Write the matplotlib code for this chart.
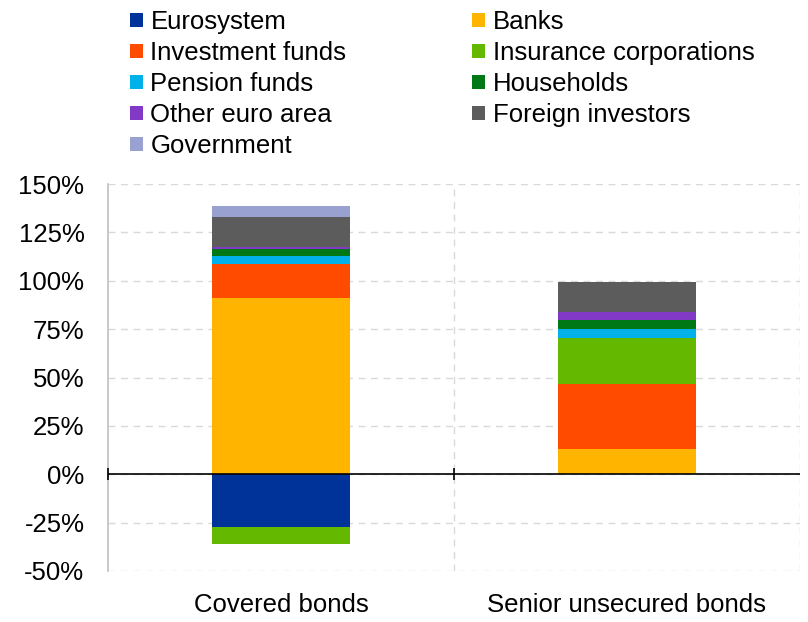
import matplotlib.pyplot as plt
import numpy as np
from matplotlib.patches import Patch

plt.rcParams['font.family'] = ['Liberation Sans', 'DejaVu Sans']

categories = ['Covered bonds', 'Senior unsecured bonds']

# positive holdings, stacked from the bottom up (percent)
pos_names = ['Banks', 'Investment funds', 'Insurance corporations', 'Pension funds',
             'Households', 'Other euro area', 'Foreign investors', 'Government']
pos_values = [
    [91.0, 13.3],
    [17.7, 33.3],
    [0.0, 24.1],
    [4.1, 4.5],
    [3.4, 4.8],
    [1.2, 3.8],
    [15.5, 15.4],
    [5.9, 0.3],
]
# negative holdings, stacked downward
neg_names = ['Eurosystem', 'Insurance corporations']
neg_values = [
    [-27.2, 0.0],
    [-8.6, 0.0],
]

colors = {
    'Eurosystem': '#003399',
    'Banks': '#FFB400',
    'Investment funds': '#FF4B00',
    'Insurance corporations': '#65B800',
    'Pension funds': '#00B1EA',
    'Households': '#007816',
    'Other euro area': '#8139C6',
    'Foreign investors': '#5C5C5C',
    'Government': '#98A1D0',
}

FS = 18.5

fig = plt.figure(figsize=(8.08, 6.22), dpi=100)
ax = fig.add_axes([0.1337, 0.082, 0.8563, 0.622])

x = np.arange(len(categories))
w = 0.4
bottom = np.zeros(len(categories))
for name, vals in zip(pos_names, pos_values):
    vals = np.array(vals)
    ax.bar(x, vals, w, bottom=bottom, color=colors[name], zorder=3)
    bottom += vals
bottom = np.zeros(len(categories))
for name, vals in zip(neg_names, neg_values):
    vals = np.array(vals)
    ax.bar(x, vals, w, bottom=bottom, color=colors[name], zorder=3)
    bottom += vals

ax.set_xlim(-0.5, 1.5)
ax.set_ylim(-50, 150)
yt = np.arange(-50, 151, 25)
ax.set_yticks(yt)
ax.set_yticklabels([f'{v}%' for v in yt], fontsize=FS)
ax.set_xticks(x)
ax.set_xticklabels(categories, fontsize=FS)
ax.tick_params(axis='y', length=0, pad=17)
ax.tick_params(axis='x', length=0, pad=16)

ax.set_xticks([0.5, 1.5], minor=True)
ax.grid(axis='y', which='major', color='#D9D9D9', linestyle=(0, (5, 4)), linewidth=1, zorder=0)
ax.grid(axis='x', which='minor', color='#D9D9D9', linestyle=(0, (5, 4)), linewidth=1, zorder=0)
ax.tick_params(axis='x', which='minor', length=0)

for s in ['top', 'right', 'bottom']:
    ax.spines[s].set_visible(False)
ax.spines['left'].set_color('#BFBFBF')
ax.spines['left'].set_linewidth(1.2)

ax.axhline(0, color='black', linewidth=1.2, zorder=4)
ax.plot([-0.5, 0.5], [0, 0], linestyle='none', marker='|', markersize=8,
        color='black', markeredgewidth=1.2, zorder=5, clip_on=False)

legend_order = ['Eurosystem', 'Investment funds', 'Pension funds', 'Other euro area', 'Government',
                'Banks', 'Insurance corporations', 'Households', 'Foreign investors']
handles = [Patch(facecolor=colors[n], label=n) for n in legend_order]
fig.legend(handles=handles, ncol=2, loc='upper left', bbox_to_anchor=(0.148, 1.0),
           frameon=False, fontsize=FS, handlelength=0.5, handleheight=0.5,
           handletextpad=0.3, columnspacing=4.9, labelspacing=0.27, borderaxespad=0)

fig.savefig('out.png', dpi=100)
